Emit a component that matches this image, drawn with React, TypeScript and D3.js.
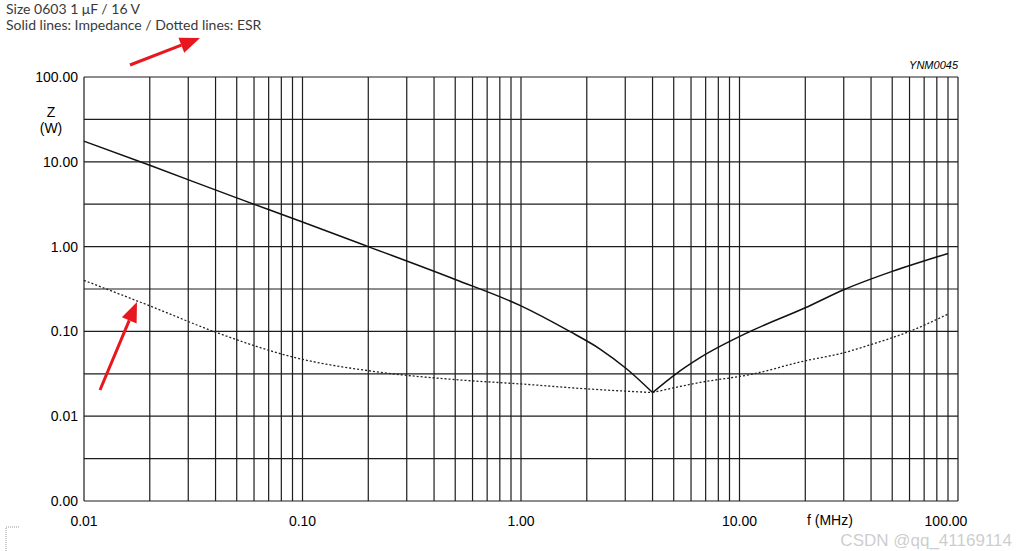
import React, { useEffect, useRef } from "react";
import * as d3 from "d3";

// frequency (MHz) / impedance (ohm)
const impFreq = [0.01, 0.02, 0.05, 0.1, 0.2, 0.5, 1, 1.67, 2.3, 3.05, 4.0];
const impVal = [17.5, 9.1, 3.75, 1.95, 1.0, 0.41, 0.2, 0.1, 0.062, 0.036, 0.019];
const impFreqHi = [4.0, 5.07, 6.6, 11.2, 20, 30, 50, 90];
const impValHi = [0.019, 0.031, 0.049, 0.1, 0.19, 0.31, 0.51, 0.83];

const esrFreq = [0.01, 0.02, 0.04, 0.09, 0.226, 0.5, 1, 2, 4, 6.6, 11.2, 20, 30, 40, 60, 90];
const esrVal = [0.4, 0.2, 0.098, 0.05, 0.033, 0.027, 0.024, 0.021, 0.019, 0.025, 0.031, 0.045, 0.056, 0.07, 0.1, 0.16];

const xTicks = [0.01, 0.1, 1, 10, 100];
const xTickLabels = ["0.01", "0.10", "1.00", "10.00", "100.00"];
const yTicks = [100, 10, 1, 0.1, 0.01, 0.001];
const yTickLabels = ["100.00", "10.00", "1.00", "0.10", "0.01", "0.00"];

const App = () => {
  const chartRef = useRef<SVGSVGElement>(null);

  useEffect(() => {
    const width = 1016;
    const height = 551;
    const margin = { top: 77, right: 58, bottom: 50, left: 84 };

    const x = d3.scaleLog().domain([0.01, 100]).range([margin.left, width - margin.right]);
    const y = d3.scaleLog().domain([0.001, 100]).range([height - margin.bottom, margin.top]);

    const svg = d3.select(chartRef.current);
    svg.selectAll("*").remove();

    const axisFont = "'Liberation Sans', Arial, sans-serif";
    const gridColor = "#1c1c1c";

    // vertical grid: 1..9 per decade
    const xGrid: number[] = [];
    for (let e = -2; e < 2; e++) {
      for (let m = 1; m < 10; m++) xGrid.push(m * Math.pow(10, e));
    }
    xGrid.push(100);
    svg
      .append("g")
      .selectAll("line")
      .data(xGrid)
      .enter()
      .append("line")
      .attr("x1", (d) => x(d))
      .attr("x2", (d) => x(d))
      .attr("y1", y(100))
      .attr("y2", y(0.001))
      .attr("stroke", gridColor)
      .attr("stroke-width", 1.2);

    // horizontal grid: decades + half decades
    const yGrid: number[] = [];
    for (let e = -3; e <= 2; e++) {
      yGrid.push(Math.pow(10, e));
      if (e < 2) yGrid.push(Math.pow(10, e + 0.5));
    }
    svg
      .append("g")
      .selectAll("line")
      .data(yGrid)
      .enter()
      .append("line")
      .attr("x1", x(0.01))
      .attr("x2", x(100))
      .attr("y1", (d) => y(d))
      .attr("y2", (d) => y(d))
      .attr("stroke", gridColor)
      .attr("stroke-width", 1.2);

    // curves
    const line = d3
      .line<[number, number]>()
      .x((d) => x(d[0]))
      .y((d) => y(d[1]))
      .curve(d3.curveMonotoneX);

    const impLo = impFreq.map((f, i) => [f, impVal[i]] as [number, number]);
    const impHi = impFreqHi.map((f, i) => [f, impValHi[i]] as [number, number]);
    [impLo, impHi].forEach((seg) => {
      svg
        .append("path")
        .datum(seg)
        .attr("fill", "none")
        .attr("stroke", "#111")
        .attr("stroke-width", 1.5)
        .attr("d", line);
    });

    const esrLo = esrFreq.filter((f) => f <= 4).map((f) => [f, esrVal[esrFreq.indexOf(f)]] as [number, number]);
    const esrHi = esrFreq.filter((f) => f >= 4).map((f) => [f, esrVal[esrFreq.indexOf(f)]] as [number, number]);
    [esrLo, esrHi].forEach((seg) => {
      svg
        .append("path")
        .datum(seg)
        .attr("fill", "none")
        .attr("stroke", "#222")
        .attr("stroke-width", 1.3)
        .attr("stroke-dasharray", "2,2")
        .attr("d", line);
    });

    // y tick labels
    svg
      .append("g")
      .selectAll("text")
      .data(yTicks)
      .enter()
      .append("text")
      .attr("x", margin.left - 6)
      .attr("y", (d) => y(d) + 5)
      .attr("text-anchor", "end")
      .style("font-family", axisFont)
      .style("font-size", "14px")
      .text((d, i) => yTickLabels[i]);

    // x tick labels
    svg
      .append("g")
      .selectAll("text")
      .data(xTicks)
      .enter()
      .append("text")
      .attr("x", (d) => (d === 100 ? x(d) - 12 : x(d)))
      .attr("y", height - margin.bottom + 25)
      .attr("text-anchor", "middle")
      .style("font-family", axisFont)
      .style("font-size", "14px")
      .text((d, i) => xTickLabels[i]);

    // axis names
    svg.append("text").attr("x", 51).attr("y", 117).attr("text-anchor", "middle")
      .style("font-family", axisFont).style("font-size", "14px").text("Z");
    svg.append("text").attr("x", 51).attr("y", 133).attr("text-anchor", "middle")
      .style("font-family", axisFont).style("font-size", "14px").text("(W)");
    svg.append("text").attr("x", 807).attr("y", 525)
      .style("font-family", axisFont).style("font-size", "14px").text("f (MHz)");
    svg.append("text").attr("x", x(100)).attr("y", 69).attr("text-anchor", "end")
      .style("font-family", axisFont).style("font-size", "11px").style("font-style", "italic")
      .text("YNM0045");

    // header
    const titleFont = "Lato, 'Open Sans', sans-serif";
    svg.append("text").attr("x", 6).attr("y", 14)
      .style("font-family", titleFont).style("font-size", "14px").attr("fill", "#3a3a3a")
      .text("Size 0603 1 μF / 16 V");
    svg.append("text").attr("x", 6).attr("y", 30)
      .style("font-family", titleFont).style("font-size", "14px").attr("fill", "#3a3a3a")
      .text("Solid lines: Impedance / Dotted lines: ESR");

    // red annotation arrows
    const arrow = (x1: number, y1: number, x2: number, y2: number) => {
      const ang = Math.atan2(y2 - y1, x2 - x1);
      const len = 20;
      const w = 8;
      const bx = x2 - len * Math.cos(ang);
      const by = y2 - len * Math.sin(ang);
      svg.append("line").attr("x1", x1).attr("y1", y1).attr("x2", bx).attr("y2", by)
        .attr("stroke", "#e8161d").attr("stroke-width", 3);
      svg.append("path")
        .attr("d", `M${x2},${y2}L${bx + w * Math.sin(ang)},${by - w * Math.cos(ang)}L${bx - w * Math.sin(ang)},${by + w * Math.cos(ang)}Z`)
        .attr("fill", "#e8161d");
    };
    arrow(130, 65, 200, 38);
    arrow(100, 390, 137, 302);

    // small crop corner mark
    svg.append("path").attr("d", "M6,551V527H20").attr("fill", "none")
      .attr("stroke", "#999").attr("stroke-width", 1).attr("stroke-dasharray", "1,1");

    // watermark
    svg.append("text").attr("x", 1012).attr("y", 546).attr("text-anchor", "end")
      .style("font-family", axisFont).style("font-size", "17px").attr("fill", "#c4c4c4")
      .attr("fill-opacity", 0.85)
      .text("CSDN @qq_41169114");
  }, []);

  return (
    <svg
      ref={chartRef}
      width={1016}
      height={551}
      style={{ position: "absolute", left: 0, top: 0, background: "#fff" }}
    />
  );
};

export default App;
